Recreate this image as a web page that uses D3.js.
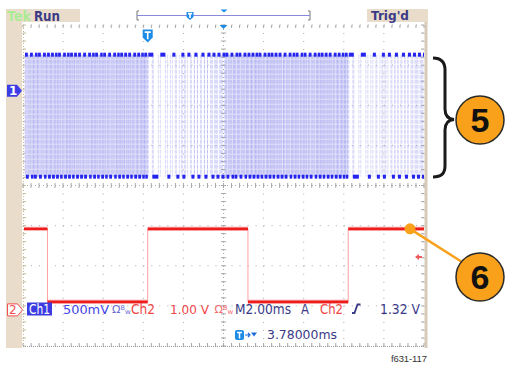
<!DOCTYPE html>
<html><head><meta charset="utf-8">
<script src="https://cdn.jsdelivr.net/npm/d3@7"></script>
<style>html,body{margin:0;padding:0;background:#fff;overflow:hidden}svg{display:block}</style>
</head><body><svg id="c" width="506" height="366"></svg>
<script>
// ---------------- data ----------------
const timeDomainMs = [0, 20];          // 10 divisions x 2.00 ms/div
const divisionsY = 8;
const ch1VoltsPerDiv = 0.5;            // 500 mV/div
const ch2VoltsPerDiv = 1.0;            // 1.00 V/div
const ch1GroundDiv = 1.64;             // ch1 marker, divisions from top
const ch2GroundDiv = 7.10;             // ch2 marker, divisions from top
const ch1HighV = 0.45;
const ch1LowV = -1.07;
const ch2HighV = 2.02;
const ch2LowV = 0.20;
const ch2StartsHigh = true;
const ch2EdgesMs = [1.22, 6.22, 11.22, 16.22];
const triggerTimeMs = 6.22;
const triggerLevelV = 1.32;
const ch1FrameStartsMs = [0.1, 10.1];
const ch1BurstMs = [0, 6.1];
const ch1HighRunsMs = [
  [0,0.14],[0.25,0.39],[0.5,0.62],[0.65,0.79],[0.9,1.04],[1.1,1.24],[1.3,1.44],[1.5,1.62],
  [1.65,1.79],[1.9,2.04],[2.1,2.22],[2.25,2.39],[2.45,2.59],[2.65,2.79],[2.9,3.04],[3.15,3.29],
  [3.35,3.47],[3.5,3.64],[3.75,3.87],[3.9,4.04],[4.15,4.29],[4.4,4.54],[4.6,4.72],[4.75,4.89],
  [4.95,5.09],[5.15,5.29],[5.4,5.54],[5.6,5.74],[5.8,5.92],[5.95,6.09],
  [6.15,6.4],[6.75,7.0],[7.35,7.5],[7.8,7.95],[8.1,8.25],[8.45,8.6],[8.8,8.95],
  [9.1,9.25],[9.35,9.5],[9.6,9.75],[9.85,10.0]
];
const ch1LowRunsMs = [
  [0.05,0.19],[0.3,0.42],[0.45,0.59],[0.7,0.84],[0.95,1.07],[1.15,1.29],[1.35,1.49],[1.55,1.69],
  [1.75,1.87],[1.95,2.09],[2.15,2.29],[2.35,2.47],[2.55,2.69],[2.75,2.89],[2.95,3.09],[3.2,3.32],
  [3.4,3.54],[3.6,3.72],[3.8,3.94],[4.0,4.12],[4.2,4.34],[4.45,4.57],[4.65,4.79],[4.85,4.97],
  [5.05,5.19],[5.25,5.37],[5.45,5.59],[5.65,5.79],[5.85,5.97],[6.0,6.1],
  [6.35,6.65],[7.1,7.25],[7.55,7.7],[7.85,8.0],[8.3,8.45],[8.6,8.75],[8.95,9.1],
  [9.3,9.45],[9.55,9.7],[9.8,9.95]
];
const statusTexts = ["Tek", "Run", "Trig'd"];
const readoutTexts = ["Ch1", "500mV", "Ch2", "1.00 V", "M2.00ms", "A", "Ch2", "1.32 V"];
const delayText = "3.78000ms";
const channelLabels = ["1", "2"];
const calloutLabels = ["5", "6"];
const figureId = "f631-117";

// ---------------- drawing ----------------
const svg = d3.select('#c');
const GX0 = 23, GX1 = 424, GY0 = 25, GY1 = 346;
const x = d3.scaleLinear().domain(timeDomainMs).range([GX0, GX1]);
const dv = d3.scaleLinear().domain([0, divisionsY]).range([GY0, GY1]);
const y1 = d3.scaleLinear()
  .domain([ch1GroundDiv * ch1VoltsPerDiv, (ch1GroundDiv - divisionsY) * ch1VoltsPerDiv]).range([GY0, GY1]);
const y2 = d3.scaleLinear()
  .domain([ch2GroundDiv * ch2VoltsPerDiv, (ch2GroundDiv - divisionsY) * ch2VoltsPerDiv]).range([GY0, GY1]);

const BEIGE = '#eadccb', NAVY = '#3a3a86', BLUE = '#2424ee', RED = '#ee1c1c';

// frame
svg.append('rect').attr('x', 6).attr('y', 9).attr('width', 16).attr('height', 339).attr('fill', BEIGE);
svg.append('rect').attr('x', 6).attr('y', 9).attr('width', 74).attr('height', 13).attr('fill', BEIGE);
svg.append('rect').attr('x', 367).attr('y', 9).attr('width', 61).attr('height', 13).attr('fill', BEIGE);
svg.append('rect').attr('x', 424.5).attr('y', 22).attr('width', 3).attr('height', 326).attr('fill', '#d8cab9');

svg.append('text').attr('x', 7).attr('y', 20.5).attr('font-family', 'DejaVu Sans').attr('font-weight', 'bold')
  .attr('font-size', 14).attr('fill', '#aaeb94').attr('textLength', 24).attr('lengthAdjust', 'spacingAndGlyphs').text(statusTexts[0]);
svg.append('text').attr('x', 34).attr('y', 20.5).attr('font-family', 'DejaVu Sans').attr('font-weight', 'bold')
  .attr('font-size', 13.5).attr('fill', NAVY).attr('textLength', 26).attr('lengthAdjust', 'spacingAndGlyphs').text(statusTexts[1]);
svg.append('text').attr('x', 371).attr('y', 20).attr('font-family', 'DejaVu Sans').attr('font-weight', 'bold')
  .attr('font-size', 13).attr('fill', NAVY).attr('textLength', 38).attr('lengthAdjust', 'spacingAndGlyphs').text(statusTexts[2]);

// record view bar
svg.append('path').attr('d', 'M139,11 h-2 v9 h2').attr('fill', 'none').attr('stroke', '#777').attr('stroke-width', 1);
svg.append('path').attr('d', 'M308,11 h2 v9 h-2').attr('fill', 'none').attr('stroke', '#777').attr('stroke-width', 1);
svg.append('line').attr('x1', 137).attr('x2', 310).attr('y1', 15.5).attr('y2', 15.5).attr('stroke', '#8888dd').attr('stroke-width', 1.2);
function tIcon(cx, cy, w, h) {
  const g = svg.append('g');
  g.append('path').attr('d', `M${cx - w / 2},${cy - h / 2} h${w} v${h * 0.62} l${-w / 2},${h * 0.38} l${-w / 2},${-h * 0.38} z`)
    .attr('fill', '#1c8ce6');
  g.append('path').attr('d', `M${cx - w * 0.3},${cy - h * 0.3} h${w * 0.6} M${cx},${cy - h * 0.3} v${h * 0.55}`)
    .attr('stroke', '#fff').attr('stroke-width', 1.6).attr('fill', 'none');
}
tIcon(190, 16, 7, 8);
svg.append('path').attr('d', 'M220.5,9.5 h7 l-3.5,3 z').attr('fill', '#1c8ce6');

// graticule
const grid = svg.append('g');
const gridColor = '#a8a8a8';
for (let i = 0; i <= 10; i++) {
  const xx = x(i * 2);
  grid.append('line').attr('x1', xx).attr('x2', xx).attr('y1', GY0).attr('y2', GY1)
    .attr('stroke', gridColor).attr('stroke-width', 1).attr('stroke-dasharray', '1,7.025');
}
for (let j = 0; j <= divisionsY; j++) {
  const yy = dv(j);
  grid.append('line').attr('x1', GX0).attr('x2', GX1).attr('y1', yy).attr('y2', yy)
    .attr('stroke', gridColor).attr('stroke-width', 1).attr('stroke-dasharray', '1,7.02');
}
const xc = x(10), yc = dv(4);
for (let t = 0; t <= 20.001; t += 0.4) {
  const xx = x(t);
  grid.append('line').attr('x1', xx).attr('x2', xx).attr('y1', yc - 2.5).attr('y2', yc + 2.5).attr('stroke', gridColor);
  grid.append('line').attr('x1', xx).attr('x2', xx).attr('y1', GY1).attr('y2', GY1 - 3).attr('stroke', gridColor);
  grid.append('line').attr('x1', xx).attr('x2', xx).attr('y1', GY0).attr('y2', GY0 + 3).attr('stroke', gridColor);
}
for (let d = 0; d <= divisionsY + 0.001; d += 0.2) {
  const yy = dv(d);
  grid.append('line').attr('x1', xc - 2.5).attr('x2', xc + 2.5).attr('y1', yy).attr('y2', yy).attr('stroke', gridColor);
  grid.append('line').attr('x1', GX0).attr('x2', GX0 + 3).attr('y1', yy).attr('y2', yy).attr('stroke', '#c8b898');
  grid.append('line').attr('x1', GX1).attr('x2', GX1 - 3).attr('y1', yy).attr('y2', yy).attr('stroke', gridColor);
}
grid.append('line').attr('x1', GX0 + 0.5).attr('x2', GX0 + 0.5).attr('y1', GY0).attr('y2', GY1)
  .attr('stroke', '#c8b898').attr('stroke-dasharray', '1,2');
grid.append('line').attr('x1', GX0).attr('x2', GX1).attr('y1', GY1 + 0.5).attr('y2', GY1 + 0.5)
  .attr('stroke', '#999').attr('stroke-dasharray', '1,1');
grid.append('line').attr('x1', xc).attr('x2', xc).attr('y1', GY0).attr('y2', GY1)
  .attr('stroke', gridColor).attr('stroke-dasharray', '1,3');
grid.append('line').attr('x1', GX0).attr('x2', GX1).attr('y1', yc).attr('y2', yc)
  .attr('stroke', gridColor).attr('stroke-dasharray', '1,3');

// clip
svg.append('clipPath').attr('id', 'gclip').append('rect')
  .attr('x', GX0 + 1).attr('y', GY0).attr('width', GX1 - GX0 - 1).attr('height', GY1 - GY0);
const traces = svg.append('g').attr('clip-path', 'url(#gclip)');

// channel 1 (blue, persistence)
const c1 = traces.append('g');
ch1FrameStartsMs.forEach(f => {
  c1.append('rect').attr('x', x(f + ch1BurstMs[0])).attr('width', x(f + ch1BurstMs[1]) - x(f + ch1BurstMs[0]))
    .attr('y', y1(ch1HighV)).attr('height', y1(ch1LowV) - y1(ch1HighV)).attr('fill', '#e2e2fa');
  const edges = ch1HighRunsMs.concat(ch1LowRunsMs).flatMap(r => [f + r[0], f + r[1]]);
  c1.selectAll(null).data(edges).enter().append('line')
    .attr('x1', d => x(d)).attr('x2', d => x(d)).attr('y1', y1(ch1HighV)).attr('y2', y1(ch1LowV))
    .attr('stroke', '#9494ee').attr('stroke-opacity', 0.4).attr('stroke-width', 0.9)
    .attr('stroke-dasharray', '4,1');
});
ch1FrameStartsMs.forEach(f => {
  [[ch1HighRunsMs, ch1HighV], [ch1LowRunsMs, ch1LowV]].forEach(([runs, v]) => {
    c1.selectAll(null).data(runs).enter().append('rect')
      .attr('x', d => x(f + d[0])).attr('width', d => Math.max(2.5, x(f + d[1]) - x(f + d[0])))
      .attr('y', y1(v) - 2).attr('height', 4).attr('fill', BLUE);
  });
});

// channel 2 (red square wave)
const c2 = traces.append('g');
let level = ch2StartsHigh, prev = timeDomainMs[0];
const hSegs = [], vSegs = [];
ch2EdgesMs.concat([timeDomainMs[1]]).forEach((e, i) => {
  hSegs.push({ t0: prev, t1: e, v: level ? ch2HighV : ch2LowV });
  if (i < ch2EdgesMs.length) { vSegs.push(e); level = !level; }
  prev = e;
});
c2.selectAll(null).data(vSegs).enter().append('line')
  .attr('x1', d => x(d)).attr('x2', d => x(d)).attr('y1', y2(ch2HighV)).attr('y2', y2(ch2LowV))
  .attr('stroke', '#ffa0a0').attr('stroke-width', 1);
c2.selectAll(null).data(hSegs).enter().append('line')
  .attr('x1', d => x(d.t0)).attr('x2', d => x(d.t1)).attr('y1', d => y2(d.v)).attr('y2', d => y2(d.v))
  .attr('stroke', '#f36a6a').attr('stroke-width', 4.5).attr('stroke-opacity', 0.35);
c2.selectAll(null).data(hSegs).enter().append('line')
  .attr('x1', d => x(d.t0)).attr('x2', d => x(d.t1)).attr('y1', d => y2(d.v)).attr('y2', d => y2(d.v))
  .attr('stroke', RED).attr('stroke-width', 2.6);

// markers
tIcon(x(triggerTimeMs), 36, 10, 13);
svg.append('path').attr('d', `M${xc - 4},25 h8 l-4,4 z`).attr('fill', '#1c8ce6');
const m1 = y1(0), m2 = y2(0);
svg.append('path').attr('d', `M7,${m1 - 6} h10 l5,6 l-5,6 h-10 z`).attr('fill', '#3c3ce6');
svg.append('text').attr('x', 9).attr('y', m1 + 4.5).attr('font-family', 'DejaVu Sans').attr('font-weight', 'bold')
  .attr('font-size', 12).attr('fill', '#fff').text(channelLabels[0]);
svg.append('path').attr('d', `M7.5,${m2 - 6} h10 l5,6 l-5,6 h-10 z`).attr('fill', '#fff').attr('stroke', '#f05050').attr('stroke-width', 1);
svg.append('text').attr('x', 9).attr('y', m2 + 4.5).attr('font-family', 'DejaVu Sans')
  .attr('font-size', 12).attr('fill', '#f05050').text(channelLabels[1]);
const ty = y2(triggerLevelV);
svg.append('path').attr('d', `M415,${ty} l4,-3 v2 h3 v2 h-3 v2 z`).attr('fill', '#f05a5a');

// readouts
const F = 'DejaVu Sans';
svg.append('rect').attr('x', 27).attr('y', 302.5).attr('width', 25).attr('height', 13).attr('fill', '#3c3ce0');
const rd = [
  { t: readoutTexts[0], x: 29, len: 21, c: '#fff' },
  { t: readoutTexts[2], x: 131, len: 24, c: '#f04646' },
  { t: readoutTexts[4], x: 235, len: 56, c: NAVY },
  { t: readoutTexts[5], x: 301, len: 8, c: NAVY },
  { t: readoutTexts[6], x: 320, len: 23, c: '#f04646' },
  { t: readoutTexts[7], x: 380, len: 40, c: NAVY }
];
rd.forEach(r => {
  svg.append('text').attr('x', r.x).attr('y', 314).attr('font-family', F).attr('font-size', 14)
    .attr('fill', r.c).attr('textLength', r.len).attr('lengthAdjust', 'spacingAndGlyphs').text(r.t);
});
// volts/div value and coupling/bandwidth marks
function scaleReadout(label, x0, len, ohmX, c, cm) {
  svg.append('text').attr('x', x0).attr('y', 314).attr('font-family', F).attr('font-size', 13).attr('fill', c)
    .attr('textLength', len).attr('lengthAdjust', 'spacingAndGlyphs').text(label);
  const t = svg.append('text').attr('x', ohmX).attr('y', 313).attr('font-family', F).attr('font-size', 11).attr('fill', cm);
  t.append('tspan').text('Ω');
  t.append('tspan').attr('font-size', 6.5).attr('dy', -3).text('B');
  t.append('tspan').attr('font-size', 7).attr('dy', 3.5).text('w');
}
scaleReadout(readoutTexts[1], 63, 46, 112, '#4545e6', '#6a6ad0');
scaleReadout(readoutTexts[3], 170, 39, 214.5, '#f04646', '#f06a6a');
svg.append('path').attr('d', 'M352,313 h2.5 l3,-8.5 h3').attr('fill', 'none').attr('stroke', NAVY).attr('stroke-width', 1.8);

// delay line
svg.append('rect').attr('x', 235).attr('y', 330).attr('width', 9).attr('height', 10).attr('rx', 2).attr('fill', '#1c8ce6');
svg.append('path').attr('d', 'M237,332.5 h5 M239.5,332.5 v6').attr('stroke', '#fff').attr('stroke-width', 1.5);
svg.append('path').attr('d', 'M245,335 h4 M248,333 l2,2 l-2,2').attr('stroke', '#1c6ad8').attr('stroke-width', 1.2).attr('fill', 'none');
svg.append('path').attr('d', 'M251,332.5 h6 l-3,4 z').attr('fill', '#1c6ad8');
svg.append('text').attr('x', 267).attr('y', 339).attr('font-family', F).attr('font-size', 13)
  .attr('fill', NAVY).attr('textLength', 70).attr('lengthAdjust', 'spacingAndGlyphs').text(delayText);

svg.append('text').attr('x', 391).attr('y', 362).attr('font-family', 'Liberation Sans, Arial').attr('font-size', 9.5)
  .attr('fill', '#333').attr('textLength', 36).text(figureId);

// callouts
const ORANGE = '#f9a11b';
svg.append('path').attr('d', 'M433,58 C441,58 445,62 445,70 L445,109 C445,116 448,119 454,119.5 C448,120 445,123 445,130 L445,166 C445,174 441,177 433,177')
  .attr('fill', 'none').attr('stroke', '#1a1a1a').attr('stroke-width', 3);
svg.append('line').attr('x1', 410).attr('y1', y2(ch2HighV)).attr('x2', 462).attr('y2', 262)
  .attr('stroke', ORANGE).attr('stroke-width', 2.5);
svg.append('circle').attr('cx', 410).attr('cy', y2(ch2HighV)).attr('r', 5.5).attr('fill', ORANGE);
[[480, 120], [480, 277]].forEach((p, i) => {
  svg.append('circle').attr('cx', p[0]).attr('cy', p[1]).attr('r', 24).attr('fill', ORANGE)
    .attr('stroke', '#2a2a2a').attr('stroke-width', 1.5);
  svg.append('text').attr('x', p[0]).attr('y', p[1] + 12).attr('text-anchor', 'middle')
    .attr('font-family', 'Liberation Sans Narrow, Liberation Sans, Arial').attr('font-weight', 'bold')
    .attr('font-size', 34).attr('fill', '#111').text(calloutLabels[i]);
});
</script></body></html>
